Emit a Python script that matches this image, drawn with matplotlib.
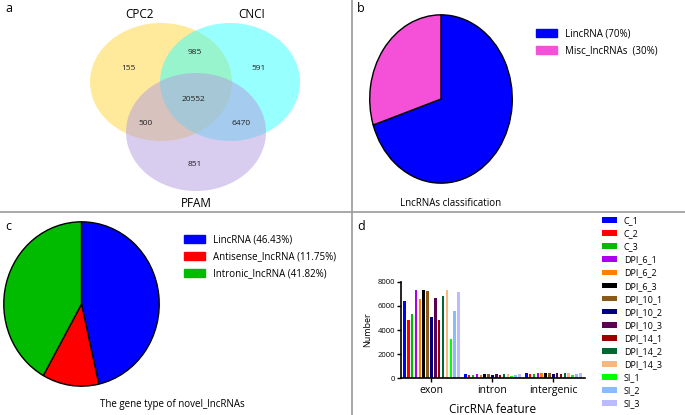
import matplotlib.pyplot as plt
from matplotlib.patches import Ellipse, Patch
import numpy as np

plt.rcParams['font.family'] = ['Open Sans', 'DejaVu Sans']

# Panel a: Venn counts
venn_sets = ['CPC2', 'CNCI', 'PFAM']
venn_counts = {'CPC2': 155, 'CNCI': 591, 'PFAM': 851,
               'CPC2&CNCI': 985, 'CPC2&PFAM': 500, 'CNCI&PFAM': 6470,
               'all': 20552}

# Panel b
b_labels = ['LincRNA (70%)', 'Misc_lncRNAs  (30%)']
b_values = [70, 30]
b_colors = ['#0000FF', '#F550D8']

# Panel c
c_labels = ['LincRNA (46.43%)', 'Antisense_lncRNA (11.75%)', 'Intronic_lncRNA (41.82%)']
c_values = [46.43, 11.75, 41.82]
c_colors = ['#0000FF', '#FF0000', '#00BB00']

# Panel d
features = ['exon', 'intron', 'intergenic']
samples = ['C_1', 'C_2', 'C_3', 'DPI_6_1', 'DPI_6_2', 'DPI_6_3',
           'DPI_10_1', 'DPI_10_2', 'DPI_10_3', 'DPI_14_1', 'DPI_14_2', 'DPI_14_3',
           'SI_1', 'SI_2', 'SI_3']
exon = [6400, 4800, 5350, 7350, 6600, 7300, 7250, 5050, 6650, 4800, 6800, 7300, 3250, 5600, 7200]
intron = [300, 260, 280, 330, 290, 330, 330, 230, 320, 260, 320, 330, 170, 270, 330]
intergenic = [380, 320, 330, 420, 380, 430, 420, 300, 410, 320, 410, 420, 230, 360, 410]
sample_colors = ['#0000FF', '#FF0000', '#00BB00', '#AA00EE', '#FF8000', '#000000',
                 '#8B5A1A', '#000080', '#5C0050', '#990000', '#006633', '#F5B880',
                 '#00FF00', '#88BBFF', '#BBBBFF']

W, H = 685, 415
fig = plt.figure(figsize=(W / 100, H / 100), dpi=100)

# overlay axes in pixel coordinates
ov = fig.add_axes([0, 0, 1, 1])
ov.set_xlim(0, W)
ov.set_ylim(H, 0)
ov.axis('off')

# separators
ov.plot([352, 352], [0, H], color='#999999', lw=1.2)
ov.plot([0, W], [212, 212], color='#999999', lw=1.2)

# panel letters
for letter, (x, y) in zip('abcd', [(5, 9), (357, 9), (5, 226), (357, 226)]):
    ov.text(x, y, letter, fontsize=9, va='center', ha='left')

# ---- a: Venn
ov.add_patch(Ellipse((161, 82), 142, 118, facecolor='#FFE066', alpha=0.65, lw=0))
ov.add_patch(Ellipse((230, 82), 140, 118, facecolor='#33FFFF', alpha=0.5, lw=0))
ov.add_patch(Ellipse((196, 132), 140, 118, facecolor='#B39BE0', alpha=0.5, lw=0))
ov.text(140, 14, venn_sets[0], fontsize=8.5, ha='center', va='center')
ov.text(252, 14, venn_sets[1], fontsize=8.5, ha='center', va='center')
ov.text(196, 203, venn_sets[2], fontsize=8.5, ha='center', va='center')
venn_pos = {'CPC2': (128, 68), 'CNCI': (259, 68), 'PFAM': (195, 164),
            'CPC2&CNCI': (195, 53), 'CPC2&PFAM': (146, 123), 'CNCI&PFAM': (241, 123),
            'all': (194, 99)}
for k, v in venn_counts.items():
    ov.text(*venn_pos[k], str(v), fontsize=6, ha='center', va='center', color='#222222')

# ---- b: pie
axb = fig.add_axes([369 / W, 1 - 184 / H, 144 / W, 170 / H])
axb.pie(b_values, colors=b_colors, startangle=90, counterclock=False,
        wedgeprops=dict(edgecolor='black', linewidth=1.0))
axb.set_aspect('auto')
axb.set_xlim(-1.01, 1.01)
axb.set_ylim(-1.01, 1.01)
fig.legend(handles=[Patch(color=c, label=l) for c, l in zip(b_colors, b_labels)],
           loc='upper left', bbox_to_anchor=(527 / W, 1 - 20 / H), frameon=False,
           fontsize=7, handlelength=2.2, handleheight=0.9, labelspacing=0.6)
ov.text(451, 203, 'LncRNAs classification', fontsize=7, ha='center', va='center')

# ---- c: pie
axc = fig.add_axes([3 / W, 1 - 387 / H, 157 / W, 166 / H])
axc.pie(c_values, colors=c_colors, startangle=90, counterclock=False,
        wedgeprops=dict(edgecolor='black', linewidth=1.0))
axc.set_aspect('auto')
axc.set_xlim(-1.01, 1.01)
axc.set_ylim(-1.01, 1.01)
fig.legend(handles=[Patch(color=c, label=l) for c, l in zip(c_colors, c_labels)],
           loc='upper left', bbox_to_anchor=(175 / W, 1 - 226 / H), frameon=False,
           fontsize=7, handlelength=2.2, handleheight=0.9, labelspacing=0.6)
ov.text(172, 404, 'The gene type of novel_lncRNAs', fontsize=7, ha='center', va='center')

# ---- d: grouped bars
axd = fig.add_axes([401 / W, 1 - 378 / H, 184 / W, 96 / H])
data = np.array([exon, intron, intergenic])
n = len(samples)
bw = 0.95 / n
x = np.arange(len(features))
for i, (s, col) in enumerate(zip(samples, sample_colors)):
    axd.bar(x - 0.475 + bw * (i + 0.5), data[:, i], width=bw * 0.65, color=col, label=s)
axd.set_xlim(-0.5, 2.52)
axd.set_ylim(0, 8000)
axd.set_yticks([0, 2000, 4000, 6000, 8000])
axd.set_xticks(x)
axd.set_xticklabels(features, fontsize=7.5)
axd.tick_params(axis='y', labelsize=5.5, length=3, width=1, pad=1)
axd.tick_params(axis='x', length=3, width=1, pad=2)
axd.spines['top'].set_visible(False)
axd.spines['right'].set_visible(False)
axd.spines['left'].set_linewidth(1.2)
axd.spines['bottom'].set_linewidth(1.2)
axd.set_ylabel('Number', fontsize=6.5, labelpad=4)
axd.set_xlabel('CircRNA feature', fontsize=8.5, labelpad=5)
fig.legend(*axd.get_legend_handles_labels(), loc='upper left',
           bbox_to_anchor=(596 / W, 1 - 210 / H), frameon=False,
           fontsize=6.5, handlelength=1.6, handleheight=0.6, labelspacing=0.45,
           handletextpad=0.8, borderaxespad=0.3)

fig.savefig('out.png', dpi=100)
